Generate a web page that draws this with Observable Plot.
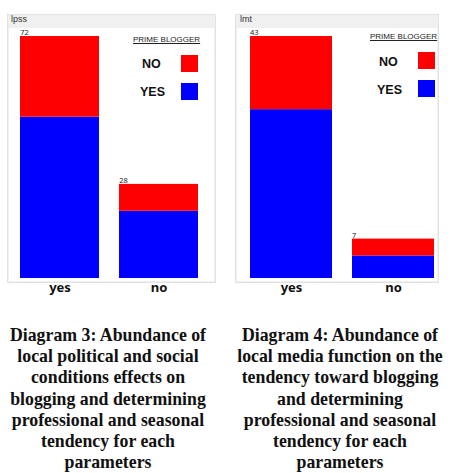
<!DOCTYPE html>
<html>
<head>
<meta charset="utf-8">
<script src="https://cdn.jsdelivr.net/npm/d3@7"></script>
<script src="https://cdn.jsdelivr.net/npm/@observablehq/plot@0.6"></script>
<style>
  body { margin:0; background:#fff; width:455px; height:473px; position:relative; overflow:hidden; font-family:"Liberation Sans", Arial, sans-serif; }
  .frame { position:absolute; background:#f0f0f0; border:1px solid #e2e2e2; box-sizing:border-box; }
  .inner { position:absolute; background:#fff; }
  .ttl { position:absolute; font-size:9px; color:#333; }
  .plot { position:absolute; top:0; }
  .legh { position:absolute; font-size:8px; text-decoration:underline; color:#222; white-space:nowrap; }
  .legl { position:absolute; font-size:12.5px; font-weight:bold; color:#111; }
  .sw { position:absolute; width:17px; height:17px; }
  .cap { position:absolute; top:325px; font-family:"Liberation Serif", "Times New Roman", serif; font-weight:bold; font-size:17.8px; line-height:21.2px; text-align:center; color:#111; white-space:nowrap; }
</style>
</head>
<body>
<div class="frame" style="left:7px;top:14px;width:209px;height:269px"></div>
<div class="inner" style="left:9px;top:28px;width:205px;height:253px"></div>
<div class="ttl" style="left:11px;top:14px">lpss</div>
<div class="frame" style="left:235px;top:14px;width:204px;height:269px"></div>
<div class="inner" style="left:237px;top:28px;width:200px;height:253px"></div>
<div class="ttl" style="left:240px;top:14px">lmt</div>

<div id="p1" class="plot" style="left:0px"></div>
<div id="p2" class="plot" style="left:227px"></div>

<div class="legh" style="left:133px;top:35px">PRIME BLOGGER</div>
<div class="legl" style="left:142px;top:57px">NO</div>
<div class="sw" style="left:181px;top:55px;background:#ff0000"></div>
<div class="legl" style="left:140px;top:85px">YES</div>
<div class="sw" style="left:181px;top:83px;background:#0000ff"></div>

<div class="legh" style="left:370px;top:32px">PRIME BLOGGER</div>
<div class="legl" style="left:379px;top:55px">NO</div>
<div class="sw" style="left:418px;top:52px;background:#ff0000"></div>
<div class="legl" style="left:377px;top:83px">YES</div>
<div class="sw" style="left:418px;top:80px;background:#0000ff"></div>

<div class="cap" style="left:0px;width:216px">Diagram 3: Abundance of<br>local political and social<br>conditions effects on<br>blogging and determining<br>professional and seasonal<br>tendency for each<br>parameters</div>
<div class="cap" style="left:220px;width:240px">Diagram 4: Abundance of<br>local media function on the<br>tendency toward blogging<br>and determining<br>professional and seasonal<br>tendency for each<br>parameters</div>

<script>
const categories = ["yes", "no"];
const groups = ["YES", "NO"];
const lpssYes = [48, 20];
const lpssNo = [24, 8];
const lmtYes = [30, 4];
const lmtNo = [13, 3];
const colors = ["#0000ff", "#ff0000"];

function build(yesVals, noVals) {
  const rows = [];
  categories.forEach((c, i) => {
    rows.push({cat: c, grp: "YES", v: yesVals[i]});
    rows.push({cat: c, grp: "NO", v: noVals[i]});
  });
  return rows;
}
function totals(yesVals, noVals) {
  return categories.map((c, i) => ({cat: c, total: yesVals[i] + noVals[i]}));
}

function chart(yesVals, noVals, opts) {
  const rows = build(yesVals, noVals);
  const tots = totals(yesVals, noVals);
  const maxT = d3.max(tots, d => d.total);
  return Plot.plot({
    width: opts.width,
    height: 300,
    marginLeft: opts.ml,
    marginRight: opts.mr,
    marginTop: 36,
    marginBottom: 22,
    style: {background: "transparent", overflow: "visible"},
    x: {domain: categories, paddingInner: opts.pad, paddingOuter: 0, label: null, tickSize: 0, tickPadding: 4},
    y: {domain: [0, maxT], axis: null},
    color: {domain: groups, range: colors},
    marks: [
      Plot.barY(rows, Plot.stackY({x: "cat", y: "v", fill: "grp", order: groups})),
      Plot.text(tots, {x: "cat", y: "total", text: d => String(d.total), textAnchor: "start", dx: -opts.bw / 2, dy: -4, fontSize: 7.5, fill: "#222"}),
      Plot.axisX({tickSize: 0, tickPadding: 4, fontSize: 13, fontWeight: "bold", fill: "#111", label: null})
    ]
  });
}

document.getElementById("p1").append(chart(lpssYes, lpssNo, {width: 227, ml: 20, mr: 28, pad: 0.201, bw: 79.5}));
document.getElementById("p2").append(chart(lmtYes, lmtNo, {width: 228, ml: 22, mr: 20, pad: 0.194, bw: 83}));
</script>
</body>
</html>
